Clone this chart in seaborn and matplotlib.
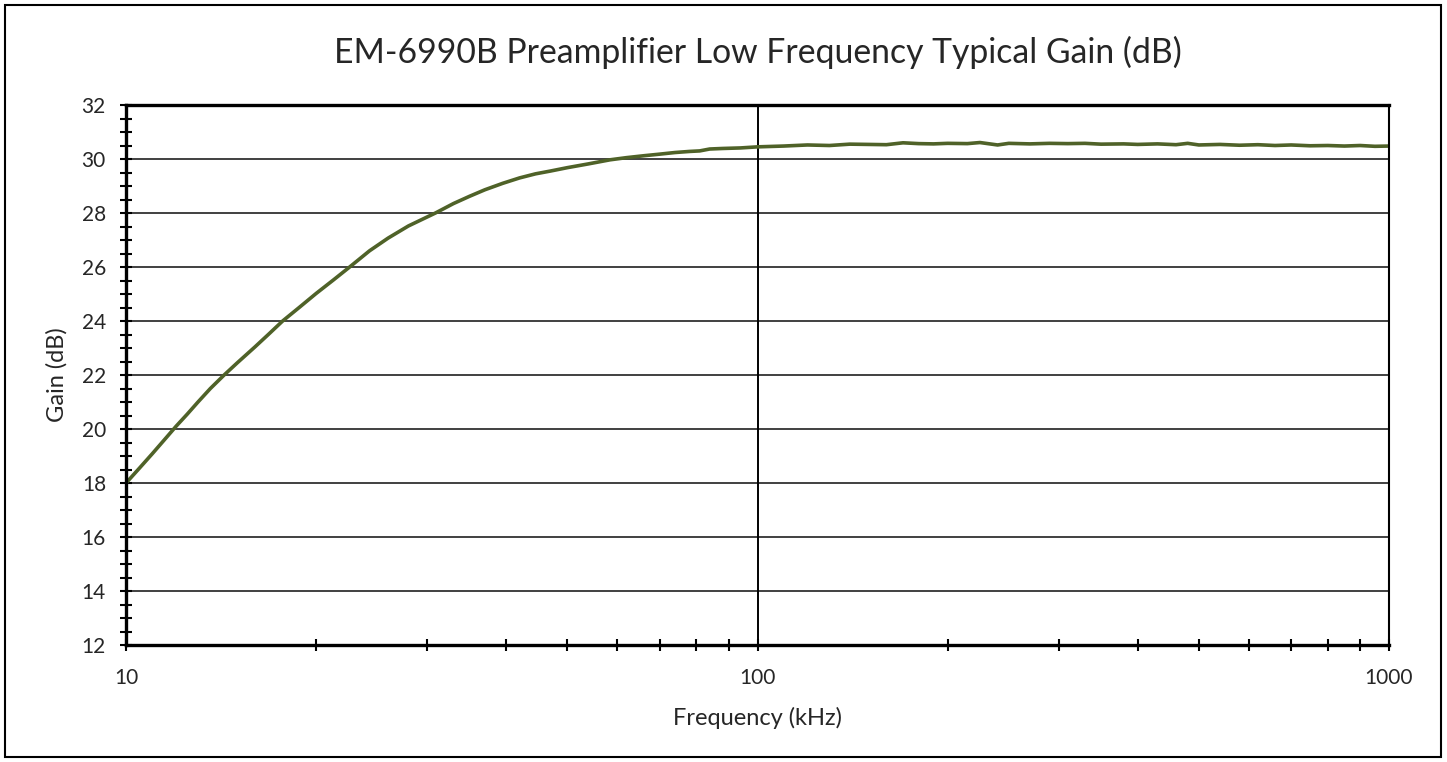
"""
EM-6990B preamp low frequency gain curve
"""
import matplotlib
matplotlib.use("Agg")
import matplotlib.pyplot as plt
import seaborn as sns
import pandas as pd
from matplotlib.ticker import MultipleLocator, LogLocator, FixedLocator, NullFormatter
from matplotlib.patches import Rectangle

# 读出来的数据 (kHz, dB)
freq_khz = [10, 10.5, 11, 11.5, 12, 12.5, 13, 13.6, 14.3, 15, 16, 16.8, 17.7,
            18.8, 20, 21.3, 22.6, 24.3, 26, 28, 30.9, 33, 35, 37, 39.5, 42,
            44.5, 46.9, 50, 54, 58.4, 62, 66, 70, 74, 78, 81, 84, 88, 94, 100,
            110, 120, 130, 140, 150, 160, 170, 180, 190, 200, 215, 225, 240,
            250, 270, 290, 310, 330, 350, 380, 400, 430, 460, 480, 500, 540,
            580, 620, 660, 700, 750, 800, 850, 900, 950, 1000]
gain_db = [18.0, 18.55, 19.08, 19.6, 20.1, 20.55, 21.0, 21.5, 22.0, 22.45,
           23.04, 23.5, 24.0, 24.5, 25.02, 25.52, 26.0, 26.6, 27.07, 27.52,
           28.0, 28.35, 28.62, 28.86, 29.1, 29.3, 29.45, 29.55, 29.68, 29.82,
           29.97, 30.05, 30.12, 30.18, 30.24, 30.28, 30.3, 30.37, 30.39,
           30.41, 30.45,
           30.48, 30.52, 30.5, 30.55, 30.54, 30.53, 30.6, 30.57, 30.56, 30.58,
           30.57, 30.61, 30.52, 30.58, 30.56, 30.58, 30.57, 30.58, 30.55,
           30.56, 30.54, 30.56, 30.53, 30.58, 30.52, 30.54, 30.51, 30.53,
           30.5, 30.52, 30.49, 30.5, 30.48, 30.5, 30.47, 30.48]

df = pd.DataFrame({"freq": freq_khz, "gain": gain_db})

sns.set_style("white")
plt.rcParams["font.family"] = ["Lato", "DejaVu Sans"]

fig = plt.figure(figsize=(14.47, 7.62), dpi=100)
ax = fig.add_axes([0.0871, 0.1535, 0.8728, 0.7087])

sns.lineplot(data=df, x="freq", y="gain", ax=ax, color="#4F6228", linewidth=2.6)

ax.set_xscale("log")
ax.set_xlim(10, 1000)
ax.set_ylim(12, 32)

ax.yaxis.set_major_locator(MultipleLocator(2))
ax.yaxis.set_minor_locator(MultipleLocator(0.5))
ax.xaxis.set_major_locator(FixedLocator([10, 100, 1000]))
ax.xaxis.set_minor_locator(LogLocator(base=10, subs=range(2, 10)))
ax.xaxis.set_minor_formatter(NullFormatter())
ax.set_xticklabels(["10", "100", "1000"])

ax.grid(axis="y", which="major", color="#404040", linewidth=1.4)
ax.axvline(100, color="black", linewidth=1.4, zorder=1)

for side in ["left", "top", "bottom"]:
    ax.spines[side].set_linewidth(2.4)
    ax.spines[side].set_color("black")
ax.spines["right"].set_linewidth(1.5)
ax.spines["right"].set_color("black")

# seaborn 的 white 风格把刻度关掉了, 这里重新打开
ax.tick_params(axis="both", which="both", bottom=True, left=True, top=False, right=False)
ax.tick_params(axis="both", which="major", direction="inout", length=9, width=1.5,
               labelsize=15, color="black")
ax.tick_params(axis="both", which="minor", direction="inout", length=8, width=1.5,
               color="black")
ax.tick_params(axis="y", which="both", pad=10)
ax.tick_params(axis="x", which="both", pad=12)

ax.set_xlabel("Frequency (kHz)", fontsize=17, labelpad=14)
ax.set_ylabel("Gain (dB)", fontsize=17, labelpad=10)
ax.set_title("EM-6990B Preamplifier Low Frequency Typical Gain (dB)", fontsize=24.3, pad=30)

# 外框
fig.patches.append(Rectangle((0.0035, 0.0065), 0.9925, 0.9875, transform=fig.transFigure,
                             fill=False, edgecolor="black", linewidth=1.5))

plt.savefig("out.png", dpi=100)
plt.close()
